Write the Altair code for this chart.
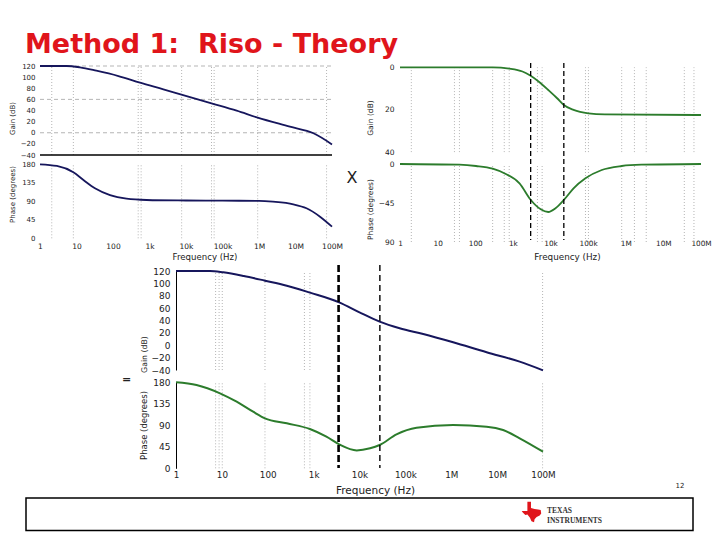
import altair as alt
import pandas as pd

# ---------------- data ----------------
# top-left: op-amp open-loop response (Aol)
tl_gain_f = [1, 5.4, 12.5, 35, 141, 550, 2400, 7100, 50000, 245000, 920000, 7e6, 3.1e7, 1e8]
tl_gain_db = [120, 120, 117.6, 111.6, 102, 90, 78, 69, 52.9, 39.7, 27.1, 10.9, -1, -20.9]
tl_phase_f = [1, 2.9, 8.2, 15.5, 32, 83, 235, 830, 1e4, 1e5, 1e6, 2.4e6, 8.7e6, 2e7, 4.7e7, 1e8]
tl_phase_deg = [180, 175.9, 160.6, 141.8, 121.6, 105, 96.4, 93.2, 92, 91.5, 91, 89, 82.7, 73, 52.6, 28.3]

# top-right: Riso network response
tr_gain_f = [1, 290, 800, 1800, 2900, 4900, 9100, 15000, 22600, 41000, 102000, 280000, 1e8]
tr_gain_db = [0, 0, -0.6, -2.0, -3.9, -6.8, -11.0, -14.6, -17.8, -20.1, -21.7, -22.2, -22.5]
tr_phase_f = [1, 38, 105, 290, 650, 1500, 3000, 5500, 8700, 13600, 22600, 41000, 85000,
              230000, 780000, 2.6e6, 1e8]
tr_phase_deg = [0, -0.8, -2.3, -5.4, -11.5, -22.3, -41.5, -52.3, -55.4, -51, -41.5, -28, -16.5,
                -6.9, -2.3, -0.8, 0]

# bottom: combined response
b_gain_f = [1, 5.5, 10.7, 30, 87, 260, 830, 3600, 10000, 27500, 75000, 245000, 1.1e6, 5.9e6, 3.1e7, 1e8]
b_gain_db = [120, 120, 117.8, 111.9, 104.4, 96.3, 85, 69.4, 53.2, 38.1, 27.4, 18.2, 4.8, -11.4, -26.5, -40.5]
b_phase_f = [1, 2.8, 9.1, 21, 48, 87, 260, 830, 1900, 3600, 8700, 17000, 27500, 64000, 175000,
             1.1e6, 5.9e6, 1.35e7, 3.1e7, 1e8]
b_phase_deg = [180, 174.3, 156.9, 139.3, 118.4, 104.6, 94.1, 82.2, 66.1, 50.2, 37.5, 41.8, 48.7, 71.1,
               85, 90.6, 87.1, 80.1, 62.8, 34.7]

# dotted grid lines (frequencies) and dashed markers
tl_grid_f = [2.1, 8.2, 490, 590, 7600, 50000, 59000, 920000, 7.1e7]
tl_hgrid_db = [120, 60, 0]
tr_grid_f = [2, 28, 38, 290, 590, 800, 4500, 6000, 85000, 102000, 780000, 1.7e6, 3.5e6, 3.6e7, 6.5e7]
b_grid_f = [7.3, 8.7, 10.2, 87, 630, 830, 9.8e7]
tr_marker_f = [2970, 22600]
b_marker_main_f = [3500]
b_marker_second_f = [27800]

freq_ticks = [1, 10, 100, 1e3, 1e4, 1e5, 1e6, 1e7, 1e8]
gain_ticks = [-40, -20, 0, 20, 40, 60, 80, 100, 120]
phase_ticks = [0, 45, 90, 135, 180]
tr_gain_ticks = [-40, -20, 0]
tr_phase_ticks = [-90, -45, 0]

# ---------------- layout / style ----------------
W, H = 704, 524
NAVY = "#16165c"
GREEN = "#2c7c2c"
GRID = "#b5b5b5"
RED = "#e0151b"
FONT = "DejaVu Sans"

TLX = [32, 324]
TLG = ([-40, 120], [147, 58])
TLP = ([0, 180], [230.3, 156.3])
TRX = [392, 693]
TRG = ([-40, 0], [144.1, 59.3])
TRP = ([-90, 0], [234, 156])
BX = [168, 535]
BG = ([-40, 120], [362, 263])
BP = ([0, 180], [460.3, 374.3])


def xscale(rng):
    return alt.Scale(type="log", domain=[1, 1e8], range=rng, nice=False)


def yscale(spec):
    return alt.Scale(domain=spec[0], range=spec[1], nice=False, zero=False)


def yaxis(values, x_left, title, tx, ty, fs, tfs, pad, domain=False, label_expr=""):
    kw = dict(values=values, orient="left", offset=-x_left, domain=domain, ticks=False,
              grid=False, labelFontSize=fs, labelPadding=pad, labelColor="#222",
              labelOverlap=False, labelFont=FONT,
              title=title, titleX=tx - x_left, titleY=ty, titleFontSize=tfs,
              titleAngle=270, titleAlign="center", titleBaseline="middle",
              titleFontWeight="normal", titleColor="#222", titleFont=FONT)
    if domain:
        kw.update(domainColor="black", domainWidth=1)
    if label_expr:
        kw["labelExpr"] = label_expr
    return alt.Axis(**kw)


def xaxis(axis_y, tx, ty, fs, tfs, pad):
    return alt.Axis(values=freq_ticks, format="~s", orient="bottom", offset=axis_y - H,
                    domain=False, ticks=False, grid=False, labelFontSize=fs,
                    labelPadding=pad, labelFlush=False, labelOverlap=False,
                    labelColor="#222", labelFont=FONT,
                    title="Frequency (Hz)", titleX=tx, titleY=ty - axis_y,
                    titleFontSize=tfs, titleAlign="center", titleBaseline="middle",
                    titleFontWeight="normal", titleColor="#222", titleFont=FONT)


def curve(fs, vs, xr, ys, color, width, xax=None, yax=None):
    df = pd.DataFrame({"f": fs, "v": vs})
    return alt.Chart(df).mark_line(color=color, strokeWidth=width, interpolate="monotone").encode(
        x=alt.X("f:Q", scale=xscale(xr), axis=xax),
        y=alt.Y("v:Q", scale=yscale(ys), axis=yax),
    )


def vgrid(fs, xr, ys):
    df = pd.DataFrame({"f": fs})
    return alt.Chart(df).mark_rule(color=GRID, strokeWidth=1, strokeDash=[1, 2]).encode(
        x=alt.X("f:Q", scale=xscale(xr), axis=None),
        y=alt.YDatum(ys[0][0], type="quantitative", scale=yscale(ys), axis=None),
        y2=alt.Y2Datum(ys[0][1]),
    )


def markers(fs, xr, span, width, dash):
    df = pd.DataFrame({"f": fs})
    sc = alt.Scale(domain=[0, 1], range=span, nice=False, zero=False)
    return alt.Chart(df).mark_rule(color="black", strokeWidth=width, strokeDash=dash).encode(
        x=alt.X("f:Q", scale=xscale(xr), axis=None),
        y=alt.YDatum(0, type="quantitative", scale=sc, axis=None),
        y2=alt.Y2Datum(1),
    )


def label(text, x, y, size, color="#222", weight="normal", align="center",
          baseline="middle", font=FONT):
    df = pd.DataFrame({"t": [text]})
    return alt.Chart(df).mark_text(fontSize=size, color=color, fontWeight=weight, align=align,
                                   baseline=baseline, font=font).encode(
        x=alt.value(x), y=alt.value(y), text="t:N")


layers = []

# ---- top-left panel ----
layers.append(vgrid(tl_grid_f, TLX, TLG))
layers.append(vgrid(tl_grid_f, TLX, TLP))
layers.append(
    alt.Chart(pd.DataFrame({"v": tl_hgrid_db})).mark_rule(color=GRID, strokeWidth=1, strokeDash=[4, 3]).encode(
        x=alt.XDatum(1, type="quantitative", scale=xscale(TLX), axis=None),
        x2=alt.X2Datum(1e8),
        y=alt.Y("v:Q", scale=yscale(TLG), axis=None),
    )
)
layers.append(
    alt.Chart(pd.DataFrame({"v": [-40]})).mark_rule(color="black", strokeWidth=1.5).encode(
        x=alt.XDatum(1, type="quantitative", scale=xscale(TLX), axis=None),
        x2=alt.X2Datum(1e8),
        y=alt.Y("v:Q", scale=yscale(TLG), axis=None),
    )
)
layers.append(curve(tl_gain_f, tl_gain_db, TLX, TLG, NAVY, 1.8,
                    yax=yaxis(gain_ticks, TLX[0], "Gain (dB)", 4.5, 110, 7, 7, 5)))
layers.append(curve(tl_phase_f, tl_phase_deg, TLX, TLP, NAVY, 1.8,
                    xax=xaxis(TLP[1][0], 196.5, 248, 7.5, 8.6, 4),
                    yax=yaxis(phase_ticks, TLX[0], "Phase (degrees)", 4.5, 186, 7, 7, 5)))

# ---- top-right panel ----
layers.append(vgrid(tr_grid_f, TRX, TRG))
layers.append(vgrid(tr_grid_f, TRX, TRP))
layers.append(curve(tr_gain_f, tr_gain_db, TRX, TRG, GREEN, 1.8,
                    yax=yaxis(tr_gain_ticks, TRX[0], "Gain (dB)", 362, 109.5, 7.5, 7.5, 6,
                              label_expr="abs(datum.value)")))
layers.append(curve(tr_phase_f, tr_phase_deg, TRX, TRP, GREEN, 1.8,
                    xax=xaxis(TRP[1][0], 559, 248.7, 7.3, 8.8, -3),
                    yax=yaxis(tr_phase_ticks, TRX[0], "Phase (degrees)", 362, 201, 7.5, 7.5, 6,
                              label_expr="datum.value == -90 ? '90' : datum.label")))
layers.append(markers(tr_marker_f, TRX, [55, 232], 1.3, [5, 3]))

# ---- bottom panel ----
layers.append(vgrid(b_grid_f, BX, BG))
layers.append(vgrid(b_grid_f, BX, BP))
layers.append(curve(b_gain_f, b_gain_db, BX, BG, NAVY, 2,
                    yax=yaxis(gain_ticks, BX[0], "Gain (dB)", 136, 346, 9, 7.8, 6, domain=True)))
layers.append(curve(b_phase_f, b_phase_deg, BX, BP, GREEN, 2,
                    xax=xaxis(BP[1][0], 367, 482, 8.8, 10.5, 2),
                    yax=yaxis(phase_ticks, BX[0], "Phase (degrees)", 135, 417, 9, 8.5, 6, domain=True)))
layers.append(markers(b_marker_main_f, BX, [257, 460], 2.6, [7, 3]))
layers.append(markers(b_marker_second_f, BX, [257, 460], 1.4, [6, 4]))

# ---- slide decorations ----
layers.append(label("Method 1:\u00a0 Riso - Theory", 17, 44.5, 27, color=RED, weight="bold",
                    align="left", baseline="alphabetic"))
layers.append(label("X", 344, 170, 16))
layers.append(label("=", 118.5, 372, 11, weight="bold"))
layers.append(label("12", 672, 478, 7))
layers.append(
    alt.Chart(pd.DataFrame({"t": [""]})).mark_rect(fill="transparent", stroke="black", strokeWidth=1.5).encode(
        x=alt.value(18), x2=alt.value(685), y=alt.value(490), y2=alt.value(522.5))
)
texas_path = ("M-0.45,-1 L-0.1,-1 L-0.1,-0.4 L0.25,-0.3 L0.6,-0.25 L0.85,-0.2 L0.9,0.15 "
              "L0.75,0.35 L0.45,0.5 L0.25,0.7 L0.2,1 L-0.05,0.9 L-0.2,0.55 L-0.45,0.25 "
              "L-0.65,0.3 L-0.9,0.05 L-1,-0.1 L-0.45,-0.1 Z")
layers.append(
    alt.Chart(pd.DataFrame({"t": ["logo"]})).mark_point(shape=texas_path, filled=True, color=RED,
                                                       opacity=1, size=420).encode(
        x=alt.value(524), y=alt.value(504))
)
layers.append(label("TEXAS", 539, 503, 7.5, color="#333", weight="bold", align="left",
                    font="Liberation Serif"))
layers.append(label("INSTRUMENTS", 539, 513, 7.5, color="#333", weight="bold", align="left",
                    font="Liberation Serif"))

chart = (
    alt.layer(*layers)
    .resolve_scale(x="independent", y="independent")
    .resolve_axis(x="independent", y="independent")
    .properties(width=W, height=H, padding=0, autosize=alt.AutoSizeParams(type="none"),
                background="white")
    .configure_view(strokeWidth=0)
)

chart.save("out.html", embed_options={"renderer": "svg", "actions": False})
